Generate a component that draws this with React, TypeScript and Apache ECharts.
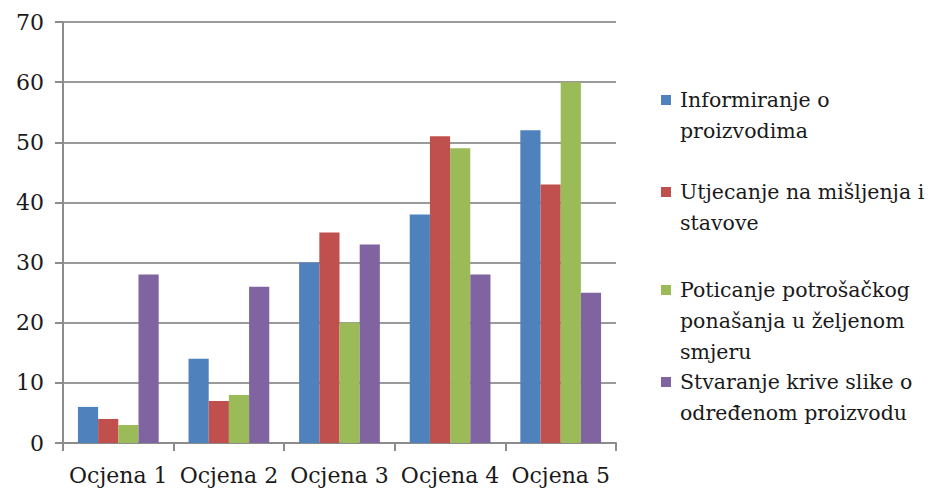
import React, { useEffect, useRef } from "react";
import * as echarts from "echarts";

const categories = ["Ocjena 1", "Ocjena 2", "Ocjena 3", "Ocjena 4", "Ocjena 5"];
const seriesNames = [
  "Informiranje o proizvodima",
  "Utjecanje na mišljenja i stavove",
  "Poticanje potrošačkog ponašanja u željenom smjeru",
  "Stvaranje krive slike o određenom proizvodu",
];
const legendLines = [
  ["Informiranje o", "proizvodima"],
  ["Utjecanje na mišljenja i", "stavove"],
  ["Poticanje potrošačkog", "ponašanja u željenom", "smjeru"],
  ["Stvaranje krive slike o", "određenom proizvodu"],
];
const informiranje = [6, 14, 30, 38, 52];
const utjecanje = [4, 7, 35, 51, 43];
const poticanje = [3, 8, 20, 49, 60];
const stvaranje = [28, 26, 33, 28, 25];
const yTicks = { min: 0, max: 70, interval: 10 };

const colors = ["#4f81bd", "#c0504d", "#9bbb59", "#8064a2"];
const seriesData = [informiranje, utjecanje, poticanje, stvaranje];

export default function App() {
  const ref = useRef<HTMLDivElement>(null);
  useEffect(() => {
    if (!ref.current) return;
    const chart = echarts.init(ref.current, undefined, { renderer: "svg" });
    const font = "DejaVu Serif";
    const lh = 31;
    const firstLineCenters = [100, 192, 290, 382];
    const legends = seriesNames.map((name, i) => {
      const n = legendLines[i].length;
      return {
        data: [name],
        orient: "vertical",
        left: 661,
        top: firstLineCenters[i] - ((2 * n - 1) * lh) / 2,
        padding: 0,
        icon: "rect",
        itemWidth: 10,
        itemHeight: 10,
        selectedMode: false,
        formatter: () => "\n".repeat(n - 1) + legendLines[i].join("\n"),
        textStyle: {
          fontFamily: font,
          fontSize: 20.5,
          color: "#1a1a1a",
          lineHeight: lh,
          padding: [0, 0, 0, 4],
        },
      };
    });
    chart.setOption({
      animation: false,
      color: colors,
      grid: { left: 63, right: 319, top: 22, bottom: 48, containLabel: false },
      legend: legends,
      xAxis: {
        type: "category",
        data: categories,
        axisLine: { show: true, lineStyle: { color: "#8c8c8c", width: 2 } },
        axisTick: { show: true, length: 8, lineStyle: { color: "#8c8c8c", width: 2 } },
        axisLabel: { interval: 0, fontFamily: font, fontSize: 22, color: "#1a1a1a", margin: 21 },
      },
      yAxis: {
        type: "value",
        min: yTicks.min,
        max: yTicks.max,
        interval: yTicks.interval,
        axisLine: { show: true, lineStyle: { color: "#8c8c8c", width: 2 } },
        axisTick: { show: true, length: 8, lineStyle: { color: "#8c8c8c", width: 2 } },
        axisLabel: { fontFamily: font, fontSize: 22, color: "#1a1a1a", margin: 19 },
        splitLine: { show: true, lineStyle: { color: "#9a9a9a", width: 2 } },
      },
      series: seriesNames.map((name, i) => ({
        name,
        type: "bar",
        data: seriesData[i],
        barGap: "0%",
        barCategoryGap: "27%",
        itemStyle: { color: colors[i] },
      })),
    });
    return () => chart.dispose();
  }, []);
  return (
    <div
      ref={ref}
      style={{ position: "fixed", left: 0, top: 0, width: 935, height: 491, background: "#fff" }}
    />
  );
}
